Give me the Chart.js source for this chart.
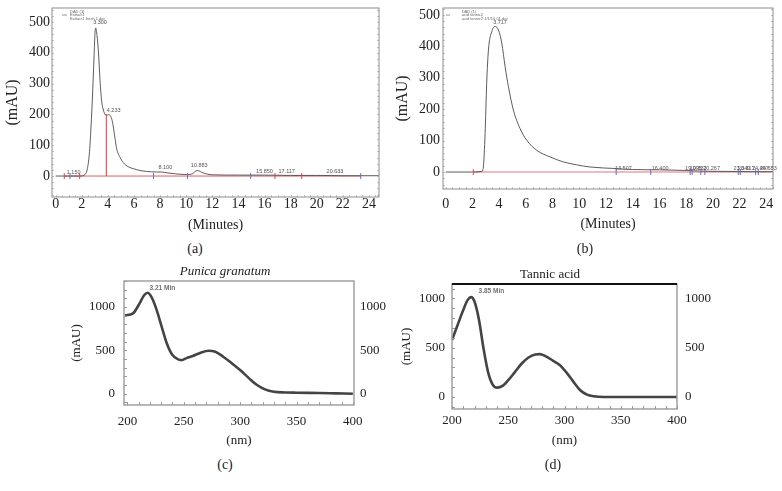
<!DOCTYPE html>
<html>
<head>
<meta charset="utf-8">
<script src="https://cdn.jsdelivr.net/npm/chart.js@4.4.0/dist/chart.umd.min.js"></script>
<style>
  body { margin: 0; background: #fff; width: 782px; height: 491px; position: relative; overflow: hidden; font-family: "Liberation Serif", serif; }
  canvas { position: absolute; }
  .cap { position: absolute; font-size: 14px; color: #222; transform: translate(-50%, -50%); }
</style>
</head>
<body>
<canvas id="chA" width="390" height="238" style="left:0;top:0"></canvas>
<canvas id="chB" width="392" height="238" style="left:390px;top:0"></canvas>
<canvas id="chC" width="330" height="195" style="left:60px;top:258px"></canvas>
<canvas id="chD" width="330" height="195" style="left:385px;top:258px"></canvas>
<div class="cap" style="left:195px;top:249px">(a)</div>
<div class="cap" style="left:585px;top:249px">(b)</div>
<div class="cap" style="left:225px;top:465px">(c)</div>
<div class="cap" style="left:553px;top:465px">(d)</div>

<script>
// --- 1. Data ---

// (a) HPLC of Punica granatum extract
const timeA = [0, 1.0, 1.85, 2.25, 2.43, 2.58, 2.71, 2.84, 2.94, 3.01, 3.07, 3.17, 3.27, 3.40, 3.52, 3.70, 3.86, 4.05, 4.16, 4.29, 4.42, 4.55, 4.67, 4.93, 5.19, 5.57, 5.95, 6.46, 6.97, 7.74, 8.1, 8.6, 9.2, 10.0, 10.4, 10.85, 11.3, 12.0, 14.0, 16.0, 18.0, 20.0, 22.0, 24.8];
const mauA  = [0, 0, 0, 5, 24, 72, 159, 278, 386, 462, 480, 455, 408, 310, 245, 208, 197, 199, 197, 186, 159, 121, 89, 61, 43, 30, 24, 18, 15, 13, 13, 10, 7, 5, 6, 18, 10, 4, 3, 3, 2, 2, 1, 1];
const redMarksA  = [0.66, 1.84, 16.8, 18.85];
const blueMarksA = [1.1, 7.5, 10.1, 14.94, 23.37];
const cutTimeA = 3.88, cutMauA = 200;
const baseFromA = 0.66, baseToA = 23.37;
const peakTextA = ['1.150', '3.300', '4.233', '8.100', '10.883', '15.850', '17.117', '20.633'];
const peakXA    = [1.38, 3.4, 4.44, 8.4, 11.0, 16.0, 17.7, 21.4];
const peakYA    = [11, 497, 214, 28, 35, 16, 16, 16];
const legendA   = ['DAD (1)', 'Extract1', 'Extract1 fresh 1.dat'];

// (b) HPLC of tannic acid
const timeB = [0, 2.0, 2.7, 2.82, 2.95, 3.07, 3.2, 3.45, 3.7, 3.95, 4.2, 4.45, 4.7, 5.07, 5.57, 6.07, 6.82, 7.82, 8.82, 9.8, 10.8, 12.8, 14.0, 16.0, 18.0, 19.0, 21.0, 23.0, 24.5];
const mauB  = [0, 0, 2, 16, 122, 282, 388, 447, 463, 452, 410, 335, 271, 197, 138, 101, 69, 48, 32, 23, 16, 11, 8, 7, 5, 3, 2, 1, 1];
const redMarksB  = [2.07];
const blueMarksB = [12.76, 15.35, 18.3, 18.45, 19.1, 19.4, 21.9, 22.05, 23.2, 23.4];
const baseFromB = 2.07, baseToB = 24.5;
const peakTextB = ['3.717', '13.507', '16.400', '19.093', '19.833', '20.267', '23.040', '23.317', '24.467', '24.683'];
const peakXB    = [4.07, 13.3, 16.05, 18.55, 18.9, 19.9, 22.17, 22.5, 23.55, 24.15];
const peakYB    = [475, 10, 10, 10, 10, 10, 10, 10, 10, 10];
const legendB   = ['DAD (1)', 'acid tannic2', 'acid tannic2 1/1/10 01.dat'];

// (c) UV spectrum, Punica granatum (3.21 min)
const nmC  = [198, 205, 210, 215, 218, 222, 226, 230, 235, 240, 245, 248, 252, 258, 265, 272, 278, 285, 292, 300, 308, 315, 322, 330, 340, 350, 370, 385, 400];
const mauC = [905, 927, 1023, 1138, 1165, 1100, 965, 792, 580, 446, 396, 388, 408, 435, 473, 496, 485, 427, 358, 273, 177, 100, 50, 23, 15, 12, 8, 4, 0];

// (d) UV spectrum, tannic acid (3.85 min)
const nmD  = [200, 205, 210, 214, 217, 220, 224, 228, 232, 236, 240, 245, 250, 256, 262, 268, 274, 278, 283, 290, 296, 302, 308, 314, 320, 326, 335, 400];
const mauD = [578, 731, 884, 986, 1014, 969, 782, 493, 255, 129, 95, 112, 170, 255, 340, 401, 432, 435, 415, 367, 323, 245, 153, 68, 24, 7, 0, 0];

// tick labels
const ticksMin  = [0, 2, 4, 6, 8, 10, 12, 14, 16, 18, 20, 22, 24];
const ticksMau  = [0, 100, 200, 300, 400, 500];
const ticksNm   = [200, 250, 300, 350, 400];
const ticksSpec = [0, 500, 1000];

// --- 2. Helpers ---
const SERIF = '"Liberation Serif", "Times New Roman", serif';
const SANS = '"Liberation Sans", Arial, sans-serif';

function xy(xs, ys) { return xs.map((v, i) => ({ x: v, y: ys[i] })); }
function at0(xs) { return xs.map(v => ({ x: v, y: 0 })); }
const plain = v => String(v); // no thousands separator

// lock axis size so the plot box lands where the figure has it
function fixSize(px) {
  return function (s) {
    if (s.isHorizontal()) s.height = px; else s.width = px;
    s.paddingTop = s.paddingBottom = s.paddingLeft = s.paddingRight = 0;
  };
}
function useTicks(list) {
  return function (s) { s.ticks = list.map(v => ({ value: v })); };
}

// box around the plot + small inward minor ticks
const framePlugin = {
  id: 'frame',
  afterDatasetsDraw(chart, args, o) {
    const { ctx, chartArea: a, scales: { x, y } } = chart;
    ctx.save();
    ctx.strokeStyle = o.tickColor;
    ctx.lineWidth = 1;
    if (o.minorX) {
      for (let v = Math.ceil(x.min / o.minorX) * o.minorX; v <= x.max; v += o.minorX) {
        const p = Math.round(x.getPixelForValue(v)) + 0.5;
        ctx.beginPath(); ctx.moveTo(p, a.bottom); ctx.lineTo(p, a.bottom - o.tickLen); ctx.stroke();
      }
    }
    if (o.minorY) {
      for (let v = Math.ceil(y.min / o.minorY) * o.minorY; v <= y.max; v += o.minorY) {
        const p = Math.round(y.getPixelForValue(v)) + 0.5;
        ctx.beginPath(); ctx.moveTo(a.left, p); ctx.lineTo(a.left + o.tickLen, p); ctx.stroke();
        if (o.rightTicks) { ctx.beginPath(); ctx.moveTo(a.right, p); ctx.lineTo(a.right - o.tickLen, p); ctx.stroke(); }
      }
    }
    ctx.strokeStyle = o.color;
    ctx.lineWidth = o.width;
    ctx.strokeRect(a.left, a.top, a.right - a.left, a.bottom - a.top);
    if (o.topColor) {
      ctx.strokeStyle = o.topColor;
      ctx.lineWidth = o.topWidth;
      ctx.beginPath(); ctx.moveTo(a.left, a.top); ctx.lineTo(a.right, a.top); ctx.stroke();
    }
    ctx.restore();
  }
};

// peak labels and the little instrument legend
const notesPlugin = {
  id: 'notes',
  afterDatasetsDraw(chart, args, o) {
    const { ctx, chartArea: a, scales: { x, y } } = chart;
    ctx.save();
    ctx.fillStyle = o.color;
    ctx.font = o.font;
    ctx.textAlign = 'center';
    ctx.textBaseline = 'middle';
    (o.texts || []).forEach((t, i) => {
      ctx.fillText(t, x.getPixelForValue(o.xs[i]), y.getPixelForValue(o.ys[i]));
    });
    if (o.legend) {
      const L = o.legendAt;
      ctx.strokeStyle = '#777';
      ctx.lineWidth = 0.8;
      ctx.beginPath(); ctx.moveTo(a.left + L[0], a.top + 7); ctx.lineTo(a.left + L[1], a.top + 7); ctx.stroke();
      ctx.font = '4px ' + SANS;
      ctx.textAlign = 'left';
      ctx.fillStyle = '#666';
      o.legend.forEach((t, i) => ctx.fillText(t, a.left + L[2], a.top + 3.5 + i * 3.8));
    }
    ctx.restore();
  }
};

// --- 3. Chromatograms (a) and (b) ---
function chromChart(id, cfg) {
  const datasets = [
    { data: xy(cfg.time, cfg.mau), borderColor: '#4a4a4a', borderWidth: 0.9, pointRadius: 0, tension: 0.35, cubicInterpolationMode: 'monotone', order: 1 },
    { data: [{ x: cfg.baseFrom, y: 0 }, { x: cfg.baseTo, y: 0 }], borderColor: cfg.baseColor, borderWidth: cfg.baseWidth, pointRadius: 0, order: 2 },
    { data: at0(cfg.red), showLine: false, pointStyle: 'line', rotation: 90, pointRadius: 3, borderColor: '#e0404c', borderWidth: 1, order: 0 },
    { data: at0(cfg.blue), showLine: false, pointStyle: 'line', rotation: 90, pointRadius: 3, borderColor: '#6a6acc', borderWidth: 1, order: 0 }
  ];
  if (cfg.cut) {
    datasets.push({ data: [{ x: cfg.cut[0], y: 0 }, { x: cfg.cut[0], y: cfg.cut[1] }], borderColor: '#e8303e', borderWidth: 1, pointRadius: 0, order: 0 });
  }
  return new Chart(document.getElementById(id), {
    type: 'line',
    data: { datasets },
    plugins: [framePlugin, notesPlugin],
    options: {
      responsive: false,
      animation: false,
      layout: { padding: { top: 8, right: cfg.padRight, left: 0, bottom: 0 } },
      plugins: {
        legend: { display: false },
        tooltip: { enabled: false },
        frame: { color: '#8c8c8c', width: 1, tickColor: '#c4c4c4', tickLen: 2, minorX: 0.5, minorY: 20, rightTicks: true },
        notes: { texts: cfg.texts, xs: cfg.tx, ys: cfg.ty, color: '#555', font: '5.5px ' + SANS, legend: cfg.legend, legendAt: cfg.legendAt }
      },
      scales: {
        x: {
          type: 'linear', min: cfg.xMin, max: cfg.xMax,
          afterFit: fixSize(cfg.xAxisH), afterBuildTicks: useTicks(ticksMin),
          grid: { display: false, drawTicks: false }, border: { display: false },
          ticks: { padding: cfg.xPad, color: '#222', font: { family: SERIF, size: 14 }, maxRotation: 0, callback: plain },
          title: { display: true, text: '(Minutes)', color: '#222', font: { family: SERIF, size: 14 }, padding: { top: 0, bottom: cfg.titlePad } }
        },
        y: {
          min: cfg.yMin, max: cfg.yMax,
          afterFit: fixSize(cfg.yAxisW), afterBuildTicks: useTicks(ticksMau),
          grid: { display: false, drawTicks: false }, border: { display: false },
          ticks: { padding: cfg.yPad, color: '#222', font: { family: SERIF, size: 14 }, callback: plain },
          title: { display: true, text: '(mAU)', color: '#222', font: { family: SERIF, size: 16 }, padding: { top: 3.4, bottom: 0 } }
        }
      }
    }
  });
}

chromChart('chA', {
  time: timeA, mau: mauA, red: redMarksA, blue: blueMarksA, cut: [cutTimeA, cutMauA],
  baseFrom: baseFromA, baseTo: baseToA, baseColor: '#e45a64', baseWidth: 1,
  texts: peakTextA, tx: peakXA, ty: peakYA, legend: legendA, legendAt: [10, 15, 18],
  xMin: -0.28, xMax: 24.77, yMin: -68, yMax: 545,
  padRight: 11, xAxisH: 41, yAxisW: 52, xPad: -1, yPad: 2, titlePad: 4.6
});

chromChart('chB', {
  time: timeB, mau: mauB, red: redMarksB, blue: blueMarksB, cut: null,
  baseFrom: baseFromB, baseTo: baseToB, baseColor: '#f0a0a6', baseWidth: 1.5,
  texts: peakTextB, tx: peakXB, ty: peakYB, legend: legendB, legendAt: [3, 7, 18.7],
  xMin: -0.2, xMax: 24.5, yMin: -54, yMax: 522,
  padRight: 9, xAxisH: 49, yAxisW: 53, xPad: 7, yPad: 3, titlePad: 5.6
});

// --- 4. UV spectra (c) and (d) ---
function specChart(id, cfg) {
  const tickFont = { family: SERIF, size: 13 };
  return new Chart(document.getElementById(id), {
    type: 'line',
    data: {
      datasets: [{ data: xy(cfg.nm, cfg.mau), borderColor: '#444', borderWidth: 2.6, pointRadius: 0, tension: 0.4, cubicInterpolationMode: 'monotone' }]
    },
    plugins: [framePlugin, notesPlugin],
    options: {
      responsive: false,
      animation: false,
      layout: { padding: 0 },
      plugins: {
        legend: { display: false },
        tooltip: { enabled: false },
        title: {
          display: true, text: cfg.title, color: '#222',
          font: { family: SERIF, size: 13, style: cfg.italic ? 'italic' : 'normal', weight: 'normal' },
          padding: { top: cfg.titleTop, bottom: 1.2 }
        },
        frame: { color: '#9a9a9a', width: 1.4, tickColor: '#9a9a9a', tickLen: 3, minorX: 10, minorY: 100, rightTicks: false, topColor: cfg.topColor, topWidth: 2 },
        notes: { texts: [cfg.note], xs: [cfg.noteX], ys: [cfg.noteY], color: '#707070', font: 'bold 6.5px ' + SANS }
      },
      scales: {
        x: {
          type: 'linear', min: cfg.xMin, max: cfg.xMax,
          afterFit: fixSize(cfg.xAxisH), afterBuildTicks: useTicks(ticksNm),
          grid: { display: false, drawTicks: false }, border: { display: false },
          ticks: { padding: cfg.xPad, color: '#222', font: tickFont, maxRotation: 0, callback: plain },
          title: { display: true, text: '(nm)', color: '#222', font: tickFont, padding: { top: 0, bottom: 4.2 } }
        },
        y: {
          position: 'left', min: cfg.yMin, max: cfg.yMax,
          afterFit: fixSize(cfg.yAxisW), afterBuildTicks: useTicks(ticksSpec),
          grid: { display: false, drawTicks: false }, border: { display: false },
          ticks: { padding: cfg.yPad, color: '#222', font: tickFont, callback: plain },
          title: { display: true, text: '(mAU)', color: '#222', font: tickFont, padding: { top: cfg.mauPad, bottom: 0 } }
        },
        y2: {
          position: 'right', min: cfg.yMin, max: cfg.yMax,
          afterFit: fixSize(cfg.y2AxisW), afterBuildTicks: useTicks(ticksSpec),
          grid: { display: false, drawTicks: false }, border: { display: false },
          ticks: { padding: cfg.y2Pad, color: '#222', font: tickFont, callback: plain }
        }
      }
    }
  });
}

specChart('chC', {
  nm: nmC, mau: mauC, title: 'Punica granatum', italic: true, titleTop: 6.2,
  note: '3.21 Min', noteX: 231, noteY: 1219, topColor: null,
  xMin: 197, xMax: 401, yMin: -130, yMax: 1300,
  xAxisH: 48, yAxisW: 64, y2AxisW: 36, xPad: 9, yPad: 9, y2Pad: 6, mauPad: 9.2
});

specChart('chD', {
  nm: nmD, mau: mauD, title: 'Tannic acid', italic: false, titleTop: 9.2,
  note: '3.85 Min', noteX: 235, noteY: 1076, topColor: '#111',
  xMin: 200, xMax: 400, yMin: -122, yMax: 1147,
  xAxisH: 44, yAxisW: 67, y2AxisW: 38, xPad: 4, yPad: 7, y2Pad: 8, mauPad: 14.2
});
</script>
</body>
</html>
